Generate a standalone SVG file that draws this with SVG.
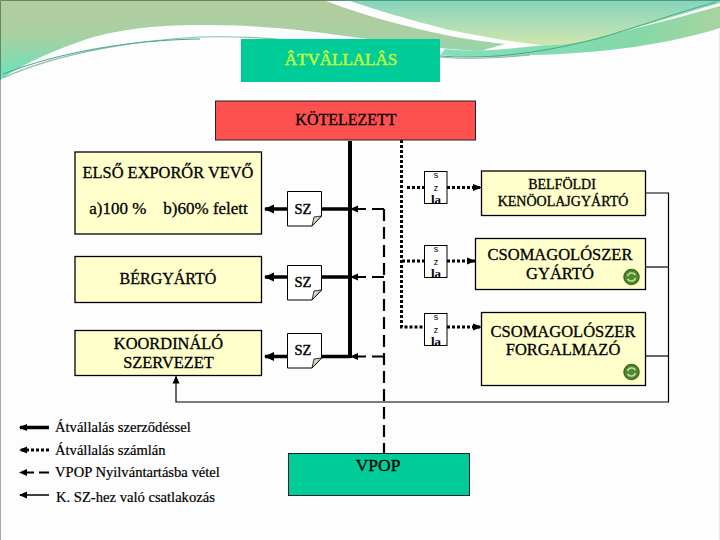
<svg xmlns="http://www.w3.org/2000/svg" width="720" height="540" viewBox="0 0 720 540">
<defs>
<linearGradient id="gl" x1="0" y1="0" x2="0" y2="1"><stop offset="0" stop-color="#b4cc9e"/><stop offset="0.45" stop-color="#a8d0a2"/><stop offset="1" stop-color="#66e4bc"/></linearGradient>
<linearGradient id="gr" x1="0" y1="0" x2="0" y2="1"><stop offset="0" stop-color="#84d4bc"/><stop offset="1" stop-color="#d0e6ae"/></linearGradient>
<linearGradient id="gb" x1="0" y1="0" x2="1" y2="0"><stop offset="0" stop-color="#84e0bc"/><stop offset="0.7" stop-color="#84d8a8"/><stop offset="1" stop-color="#a8d4a0"/></linearGradient>
<marker id="ah" markerUnits="userSpaceOnUse" markerWidth="12" markerHeight="10" refX="9" refY="5" orient="auto"><path d="M0,0.500 L10,5 L0,9.500 Z" fill="#000"/></marker>
<marker id="ahs" markerUnits="userSpaceOnUse" markerWidth="10" markerHeight="8" refX="7" refY="4" orient="auto"><path d="M0,0.500 L8,4 L0,7.500 Z" fill="#000"/></marker>
<marker id="ahd" markerUnits="userSpaceOnUse" markerWidth="10" markerHeight="8" refX="8" refY="4" orient="auto"><path d="M0,0.500 L9,4 L0,7.500 Z" fill="#000"/></marker>
<symbol id="doc" width="36" height="36" viewBox="0 0 36 36" overflow="visible"><path class="doc" d="M0.500,0.500 H34.500 V25 L25,35 H0.500 Z"/><path class="fold" d="M25,35 L27,26 L34.500,25 Z"/></symbol>
<g id="recyc"><circle r="7.500" fill="#4f8a2e" stroke="#3c6e22" stroke-width="1.500"/><path d="M-4,-1 A4.500,4.500 0 0 1 4,-2 M4,1 A4.500,4.500 0 0 1 -4,2" fill="none" stroke="#c4dc98" stroke-width="1.600"/></g>
</defs>
<style>
text{font-family:"Liberation Serif","Times New Roman",serif;fill:#000;text-anchor:middle;stroke:#000;stroke-width:.3}
.box{fill:#ffffcc;stroke:#000;stroke-width:1.3}
.doc{fill:#fff;stroke:#000;stroke-width:1}
.fold{fill:#d9d9c8;stroke:#000;stroke-width:.8}
.f16{font-size:16px}.f165{font-size:16.400px}.f14{font-size:14px}.f17{font-size:16.500px}.f175{font-size:17.500px}
.sz{font-size:14.500px;stroke-width:.4}
.sm{font-family:"Liberation Sans",sans-serif;font-size:9px;stroke:none}
.la{font-size:13px;font-weight:bold;stroke:none}
.leg{font-size:14.600px;text-anchor:start;stroke-width:.2}
.th{fill:none;stroke:#000;stroke-width:3.500}
.dot{fill:none;stroke:#000;stroke-width:3;stroke-dasharray:3 2}
.das{fill:none;stroke:#000;stroke-width:2.200;stroke-dasharray:12 6}
.thin{fill:none;stroke:#000;stroke-width:1.200}
</style>
<rect width="720" height="540" fill="#fdfdfd"/>
<g id="background">
<path d="M445,49 C490,54 520,46 560,44 C610,36 670,20 720,6 V28 C670,44 600,54 530,55 C500,58 470,58 440,55 Z" fill="url(#gb)"/>
<path d="M0,0 H323 C350,10 380,20 407,26 C440,35 470,40 505,44 L480,51 C440,50 400,42 360,38 C310,31 270,25 200,25 C150,25 120,30 90,38 C60,48 25,62 0,80 Z" fill="url(#gl)"/>
<path d="M347,0 H720 V3 C680,14 640,28 600,37 C580,43 560,46 540,45 C510,42 480,36 445,29 C410,20 380,11 347,0 Z" fill="url(#gr)"/>
<path d="M3,78 C60,52 140,40 200,37 C240,36 280,38 320,44" fill="none" stroke="#8cbfa2" stroke-width="1.200"/>
<path d="M3,74 C60,52 130,40 200,39" fill="none" stroke="#4da58b" stroke-width="1"/>
<path d="M440,56 C480,59 530,56 600,38 C640,26 680,12 716,2" fill="none" stroke="#3fae84" stroke-width="1"/>
<path d="M440,57 C460,59 490,59 530,55" fill="none" stroke="#a8a8b0" stroke-width="1"/>
<path d="M0.500,80 V0.500 H720" fill="none" stroke="#64886a" stroke-width="1"/>
<path d="M345,0.500 H720" fill="none" stroke="#4a9a86" stroke-width="1.200"/>
<path d="M0.500,80 V540" fill="none" stroke="#a8a8a8" stroke-width="1"/>
<path d="M719.500,30 V540" fill="none" stroke="#e8e8e8" stroke-width="1"/>
</g>
<g id="connectors">
<path class="th" style="stroke-width:4" d="M350,141 V358"/>
<path class="th" d="M350,209 H322"/><path class="th" d="M350,277 H322"/><path class="th" d="M350,356.500 H322"/>
<path class="th" d="M287,209 H265" marker-end="url(#ah)"/>
<path class="th" d="M287,277 H265" marker-end="url(#ah)"/>
<path class="th" d="M287,356.500 H265" marker-end="url(#ah)"/>
<path class="das" d="M384,209 V453"/>
<path class="das" d="M384,209 H351" marker-end="url(#ahs)"/>
<path class="das" d="M384,277 H351" marker-end="url(#ahs)"/>
<path class="das" d="M384,356.500 H351" marker-end="url(#ahs)"/>
<path class="dot" d="M401.500,140 V327 H424"/>
<path class="dot" d="M407,187.500 H424"/>
<path class="dot" d="M402,261 H424"/>
<path class="dot" d="M447,187.500 H481" marker-end="url(#ahd)"/>
<path class="dot" d="M447,261 H475" marker-end="url(#ahd)"/>
<path class="dot" d="M447,327 H481" marker-end="url(#ahd)"/>
<path class="thin" d="M646,193 H668.500 V402 H176 V376.500" marker-end="url(#ahs)"/>
<path class="thin" d="M646,267 H668.500"/><path class="thin" d="M646,356 H668.500"/>
</g>
<g id="title"><rect x="241" y="39" width="199" height="43" fill="#00cc99"/><text x="341" y="65" font-size="17" style="fill:#ccff33;stroke:#ccff33;stroke-width:.5">ÂTVÂLLALÂS</text></g>
<g id="kotelezett"><rect x="215.500" y="101" width="260" height="39" fill="#ff5050" stroke="#222" stroke-width="1"/><text x="346" y="125" class="f16">KÖTELEZETT</text></g>
<g id="elso"><rect class="box" x="75" y="152" width="186.500" height="82"/><text x="168" y="178" class="f165">ELSŐ EXPORŐR VEVŐ</text><text x="168.500" y="214" font-size="17" xml:space="preserve">a)100 %    b)60% felett</text></g>
<g id="berg"><rect class="box" x="75" y="256.500" width="186.500" height="46"/><text x="168" y="284" class="f16">BÉRGYÁRTÓ</text></g>
<g id="koord"><rect class="box" x="75" y="330.500" width="186.500" height="45"/><text x="168.500" y="349" class="f165">KOORDINÁLÓ</text><text x="168.500" y="368" class="f165">SZERVEZET</text></g>
<g id="sz1"><use href="#doc" x="287" y="191"/><text x="303" y="214" class="sz">SZ</text></g>
<g id="sz2"><use href="#doc" x="287" y="265"/><text x="303" y="287" class="sz">SZ</text></g>
<g id="sz3"><use href="#doc" x="287" y="333"/><text x="303" y="355" class="sz">SZ</text></g>
<g id="szla1"><rect class="doc" x="424.500" y="171.500" width="22.500" height="32"/><text x="436" y="178" class="sm">s</text><text x="436" y="191" class="sm">z</text><text x="436" y="204" class="la">la</text></g>
<g id="szla2"><rect class="doc" x="424.500" y="245.500" width="22.500" height="32"/><text x="436" y="252" class="sm">s</text><text x="436" y="265" class="sm">z</text><text x="436" y="278" class="la">la</text></g>
<g id="szla3"><rect class="doc" x="424.500" y="313.500" width="22.500" height="32"/><text x="436" y="320" class="sm">s</text><text x="436" y="333" class="sm">z</text><text x="436" y="346" class="la">la</text></g>
<g id="belfoldi"><rect class="box" x="481.500" y="171" width="164" height="44.500"/><text x="562" y="189" class="f14">BELFÖLDI</text><text x="563" y="206" class="f14">KENÖOLAJGYÁRTÓ</text></g>
<g id="csom1"><rect class="box" x="475.500" y="238.500" width="170" height="51"/><text x="560" y="260" class="f17">CSOMAGOLÓSZER</text><text x="560" y="279" class="f17">GYÁRTÓ</text><use href="#recyc" x="631.500" y="277"/></g>
<g id="csom2"><rect class="box" x="481.500" y="312.500" width="164" height="73"/><text x="563" y="337" class="f17">CSOMAGOLÓSZER</text><text x="563" y="355" class="f17">FORGALMAZÓ</text><use href="#recyc" x="631.500" y="372"/></g>
<g id="vpop"><rect x="288.500" y="453.500" width="181" height="42" fill="#00cc99" stroke="#222" stroke-width="1"/><text x="378" y="470.500" class="f175">VPOP</text></g>
<g id="legend">
<path class="th" d="M49,427.500 H20" marker-end="url(#ahs)"/>
<path class="dot" d="M49,450 H20" marker-end="url(#ahs)"/>
<path class="das" d="M49,472.500 H20" style="stroke-dasharray:10 5" marker-end="url(#ahs)"/>
<path class="thin" style="stroke-width:1.500" d="M49,495 H20" marker-end="url(#ahs)"/>
<text x="55" y="432" class="leg">Átvállalás szerződéssel</text>
<text x="55" y="455" class="leg">Átvállalás számlán</text>
<text x="55" y="477" class="leg">VPOP Nyilvántartásba vétel</text>
<text x="56" y="502" class="leg">K. SZ-hez való csatlakozás</text>
</g>
</svg>
